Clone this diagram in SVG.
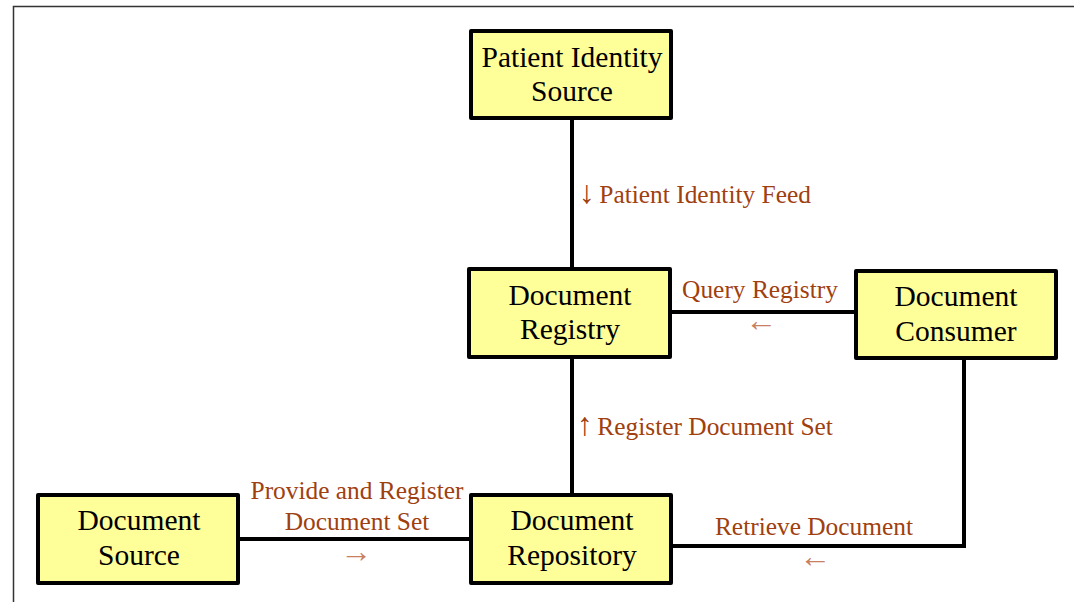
<svg xmlns="http://www.w3.org/2000/svg" width="1074" height="602" viewBox="0 0 1074 602">
<style>
.box{fill:#FFFF99;stroke:#000;stroke-width:4;stroke-linejoin:round}
.nt{font-family:"Liberation Serif","Times New Roman",serif;font-size:29.5px;fill:#000;text-anchor:middle}
.lb{font-family:"Liberation Serif","Times New Roman",serif;font-size:25.4px;fill:#A0400F}
.ar{font-family:"Liberation Serif","Times New Roman",serif;font-size:32px;fill:#C8805F;text-anchor:middle}
.ia{font-size:32px}
.cn{fill:none;stroke:#000;stroke-width:4}
</style>
<rect width="1074" height="602" fill="#fff"/>
<path d="M13.5,602 V6.5 H1074" fill="none" stroke="#333" stroke-width="1.5"/>
<g id="connectors">
<line class="cn" x1="572" y1="118" x2="572" y2="269"/>
<line class="cn" x1="670" y1="312" x2="856" y2="312"/>
<line class="cn" x1="572" y1="357" x2="572" y2="495"/>
<line class="cn" x1="238" y1="539" x2="471" y2="539"/>
<polyline class="cn" points="671,546 964,546 964,358"/>
<text class="lb" x="579" y="203"><tspan class="ia">↓</tspan><tspan dx="-2"> Patient Identity Feed</tspan></text>
<text class="lb" x="760" y="298" text-anchor="middle">Query Registry</text>
<text class="ar" x="761" y="331">←</text>
<text class="lb" x="577" y="435"><tspan class="ia">↑</tspan><tspan dx="-2"> Register Document Set</tspan></text>
<text class="lb" x="357" y="499" text-anchor="middle">Provide and Register</text>
<text class="lb" x="357" y="530" text-anchor="middle">Document Set</text>
<text class="ar" x="356" y="562">→</text>
<text class="lb" x="814" y="535" text-anchor="middle">Retrieve Document</text>
<text class="ar" x="815" y="567">←</text>
</g>
<g id="patient-identity-source">
<rect class="box" x="471" y="31" width="200" height="87"/>
<text class="nt" x="572" y="67">Patient Identity</text>
<text class="nt" x="572" y="101">Source</text>
</g>
<g id="document-registry">
<rect class="box" x="469" y="269" width="201" height="88"/>
<text class="nt" x="570" y="305">Document</text>
<text class="nt" x="570" y="339">Registry</text>
</g>
<g id="document-consumer">
<rect class="box" x="856" y="271" width="200" height="87"/>
<text class="nt" x="956" y="306">Document</text>
<text class="nt" x="956" y="341">Consumer</text>
</g>
<g id="document-source">
<rect class="box" x="38" y="495" width="200" height="88"/>
<text class="nt" x="139" y="530">Document</text>
<text class="nt" x="139" y="565">Source</text>
</g>
<g id="document-repository">
<rect class="box" x="471" y="495" width="200" height="88"/>
<text class="nt" x="572" y="530">Document</text>
<text class="nt" x="572" y="565">Repository</text>
</g>
</svg>
